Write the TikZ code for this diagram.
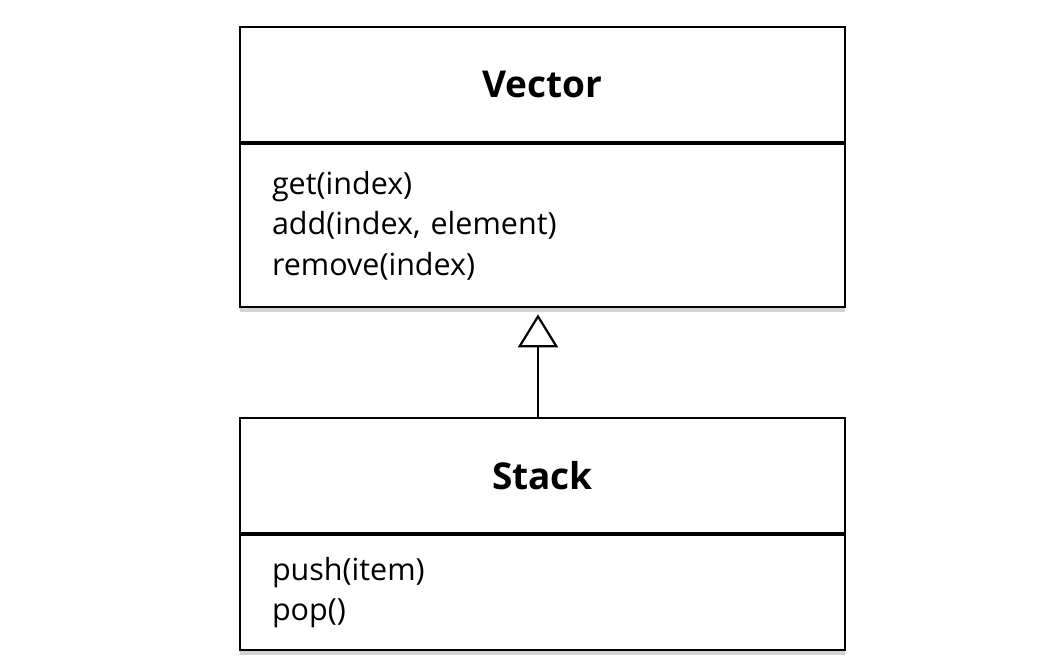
\documentclass[tikz,border=0pt]{standalone}
\usepackage{fontspec}
\setmainfont{Open Sans}
\usetikzlibrary{arrows.meta,positioning,shadows}

\begin{document}
\begin{tikzpicture}[x=1pt,y=1pt]
\tikzset{classname/.style={draw,line width=2.2pt,fill=white,minimum width=605pt,minimum height=115pt,
  inner sep=0pt,font=\fontsize{37}{44}\selectfont\bfseries},
  classops/.style={draw,line width=2.2pt,fill=white,text width=541pt,inner xsep=32pt,inner ysep=0pt,
  align=left,font=\fontsize{30.5}{40.5}\selectfont,
  drop shadow={shadow xshift=0pt,shadow yshift=-5pt,opacity=.35}},
  extends/.style={line width=2.2pt,-{Triangle[open,length=33pt,width=40pt,line width=2.2pt]},shorten >=6pt}}
\useasboundingbox (0,0) rectangle (1043,-671);
% superclass
\node [classname] (vecname) at (542.5,-84.5) {Vector};
\node [classops,minimum height=163pt,below=0pt of vecname] (vecops) {get(index)\\add(index, element)\\remove(index)};
% subclass
\node [classname] (stkname) at (542.5,-475.5) {Stack};
\node [classops,minimum height=115pt,below=0pt of stkname] (stkops) {push(item)\\pop()};
% generalization
\draw [extends] (stkname.north -| 538,0) -- (vecops.south -| 538,0);
\end{tikzpicture}
\end{document}
